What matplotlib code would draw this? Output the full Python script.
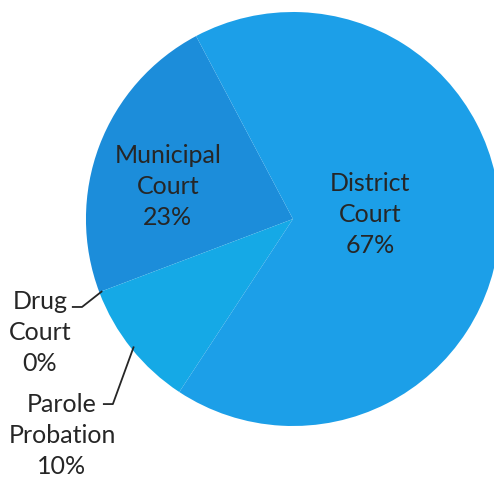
import numpy as np
import matplotlib
matplotlib.use("Agg")
import matplotlib.pyplot as plt

# Share of cases by court type
courts = ["Municipal\nCourt", "Drug\nCourt", "Parole\nProbation", "District\nCourt"]
shares = [23, 0, 10, 67]
colors = ["#1c8dda", "#1a9ce4", "#15a9e6", "#1c9fe8"]

plt.rcParams['font.family'] = ['Lato', 'DejaVu Sans']

fig = plt.figure(figsize=(4.94, 4.79), dpi=100)
ax = fig.add_axes([0, 0, 1, 1])

wedges, _ = ax.pie(shares, colors=colors, startangle=117.9, counterclock=True,
                   radius=1.0, center=(0, 0), wedgeprops=dict(linewidth=0))

ax.set_xlim(-1.415, 0.971)
ax.set_ylim(-1.256, 1.058)
ax.set_aspect('equal')
ax.axis('off')

txt = dict(fontsize=18, color="#262626", ha="center", va="center", linespacing=1.42)

# labels inside the big slices
inside = {0: (-0.604, 0.159), 3: (0.372, 0.024)}
for i, (x, y) in inside.items():
    ax.text(x, y, f"{courts[i]}\n{shares[i]}%", **txt)

# labels outside with leader lines for the small slices
outside = {1: ((-1.222, -0.546), (-1.068, -0.425), (-1.019, -0.425)),
           2: ((-1.116, -1.048), (-0.918, -0.894), (-0.870, -0.894))}
for i, (pos, start, elbow) in outside.items():
    ax.text(pos[0], pos[1], f"{courts[i]}\n{shares[i]}%", **txt)
    w = wedges[i]
    mid = np.deg2rad((w.theta1 + w.theta2) / 2)
    r = 0.985
    ax.plot([start[0], elbow[0], r * np.cos(mid)],
            [start[1], elbow[1], r * np.sin(mid)],
            color="#262626", lw=1.3, solid_capstyle="butt")

fig.savefig("out.png", dpi=100)
